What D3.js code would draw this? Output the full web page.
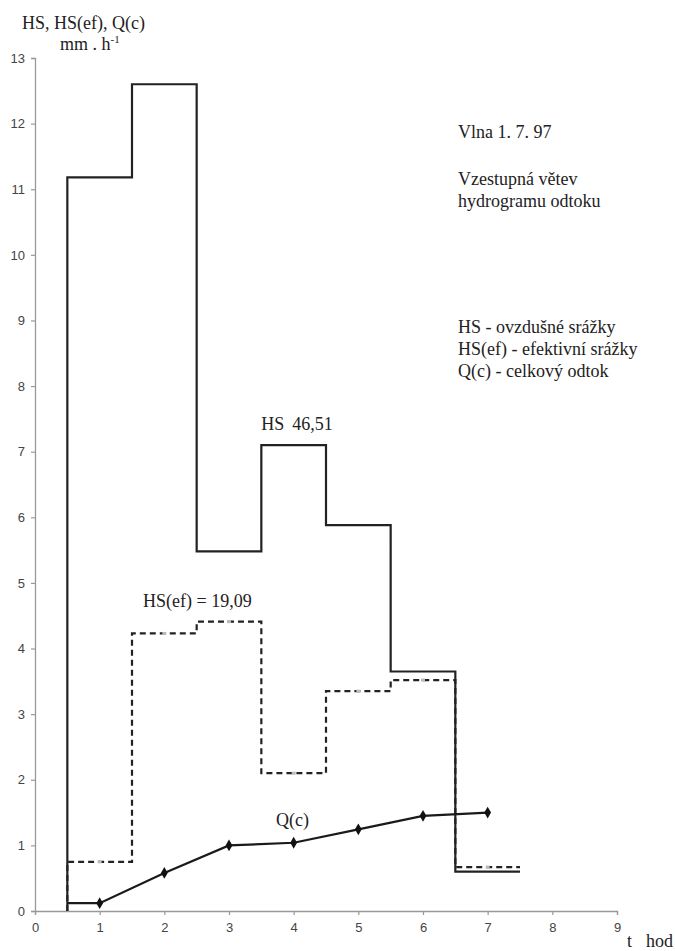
<!DOCTYPE html>
<html>
<head>
<meta charset="utf-8">
<script src="https://cdn.jsdelivr.net/npm/d3@7"></script>
<style>
  html, body { margin: 0; padding: 0; background: #fff; }
  svg { display: block; }
  .tick text { font-family: "Liberation Sans", Arial, sans-serif; font-size: 13px; fill: #444; }
</style>
</head>
<body>
<svg id="chart" width="675" height="951"></svg>
<script>
// Hourly step boundaries (hours) shared by both rainfall series
const stepEdges = [0.5, 1.5, 2.5, 3.5, 4.5, 5.5, 6.5, 7.5];
// HS – rainfall intensity per interval (mm/h)
const hsValues = [11.18, 12.60, 5.48, 7.10, 5.88, 3.65, 0.60];
// HS(ef) – effective rainfall intensity per interval (mm/h)
const hsEfValues = [0.75, 4.23, 4.41, 2.10, 3.35, 3.52, 0.67];
// Q(c) – total runoff
const qTimes = [0.5, 1, 2, 3, 4, 5, 6, 7];
const qValues = [0.12, 0.12, 0.58, 1.00, 1.04, 1.245, 1.45, 1.50];
// Axis ticks
const xTicks = [0, 1, 2, 3, 4, 5, 6, 7, 8, 9];
const yTicks = [0, 1, 2, 3, 4, 5, 6, 7, 8, 9, 10, 11, 12, 13];

const SERIF = '"Liberation Serif", "Times New Roman", serif';
const svg = d3.select("#chart");
const x = d3.scaleLinear().domain([0, 9]).range([35, 617]);
const y = d3.scaleLinear().domain([0, 13]).range([911, 58]);

// Axes
const xAxis = svg.append("g").attr("transform", `translate(0,${y(0)})`)
  .call(d3.axisBottom(x).tickValues(xTicks).tickSize(4).tickPadding(8).tickFormat(d3.format("d")));
const yAxis = svg.append("g").attr("transform", `translate(${x(0)},0)`)
  .call(d3.axisLeft(y).tickValues(yTicks).tickSize(4).tickPadding(6).tickFormat(d3.format("d")));
[xAxis, yAxis].forEach(a => {
  a.select(".domain").attr("stroke", "#999").attr("stroke-width", 1.3);
  a.selectAll(".tick line").attr("stroke", "#999").attr("stroke-width", 1.2);
});

// Build a step outline from interval values
function stepPoints(vals) {
  const pts = [[stepEdges[0], 0]];
  vals.forEach((v, i) => {
    pts.push([stepEdges[i], v]);
    pts.push([stepEdges[i + 1], v]);
  });
  return pts;
}
const line = d3.line().x(d => x(d[0])).y(d => y(d[1]));

// HS(ef) dashed steps
svg.append("path").attr("d", line(stepPoints(hsEfValues)))
  .attr("fill", "none").attr("stroke", "#222").attr("stroke-width", 2.2)
  .attr("stroke-dasharray", "6,4");
// light markers at interval centres
svg.append("g").selectAll("rect")
  .data(hsEfValues.map((v, i) => [(stepEdges[i] + stepEdges[i + 1]) / 2, v]))
  .join("rect")
  .attr("x", d => x(d[0]) - 2).attr("y", d => y(d[1]) - 1.5)
  .attr("width", 4).attr("height", 3).attr("fill", "#bbb");

// HS solid steps
svg.append("path").attr("d", line(stepPoints(hsValues)))
  .attr("fill", "none").attr("stroke", "#222").attr("stroke-width", 2.2);

// Q(c) line with diamond markers
const qPts = qTimes.map((t, i) => [t, qValues[i]]);
svg.append("path").attr("d", line(qPts))
  .attr("fill", "none").attr("stroke", "#1a1a1a").attr("stroke-width", 2.2);
svg.append("g").selectAll("path")
  .data(qPts.slice(1))
  .join("path")
  .attr("d", d3.symbol().type(d3.symbolDiamond).size(40))
  .attr("transform", d => `translate(${x(d[0])},${y(d[1])})`)
  .attr("fill", "#111");

// Serif text helper
function label(px, py, str, size = 18) {
  return svg.append("text")
    .attr("font-family", SERIF).attr("font-size", size).attr("fill", "#222")
    .attr("x", px).attr("y", py).text(str);
}

// Axis titles
label(22, 29, "HS, HS(ef), Q(c)");
const unit = label(60, 50, "mm . h");
unit.append("tspan").attr("font-size", 11).attr("dy", -7).text("-1");
label(627, 947, "t");
label(646, 947, "hod");

// Series annotations
label(x(3.5), 430, "HS").append("tspan").attr("dx", 8).text("46,51");
label(143, 607, "HS(ef) = 19,09");
label(276, 826, "Q(c)");

// Notes on the right
const notes = [
  ["Vlna 1. 7. 97", 138],
  ["Vzestupná větev", 185],
  ["hydrogramu odtoku", 207],
  ["HS - ovzdušné srážky", 333],
  ["HS(ef) - efektivní srážky", 355],
  ["Q(c) - celkový odtok", 377]
];
notes.forEach(d => label(458, d[1], d[0]));
</script>
</body>
</html>
